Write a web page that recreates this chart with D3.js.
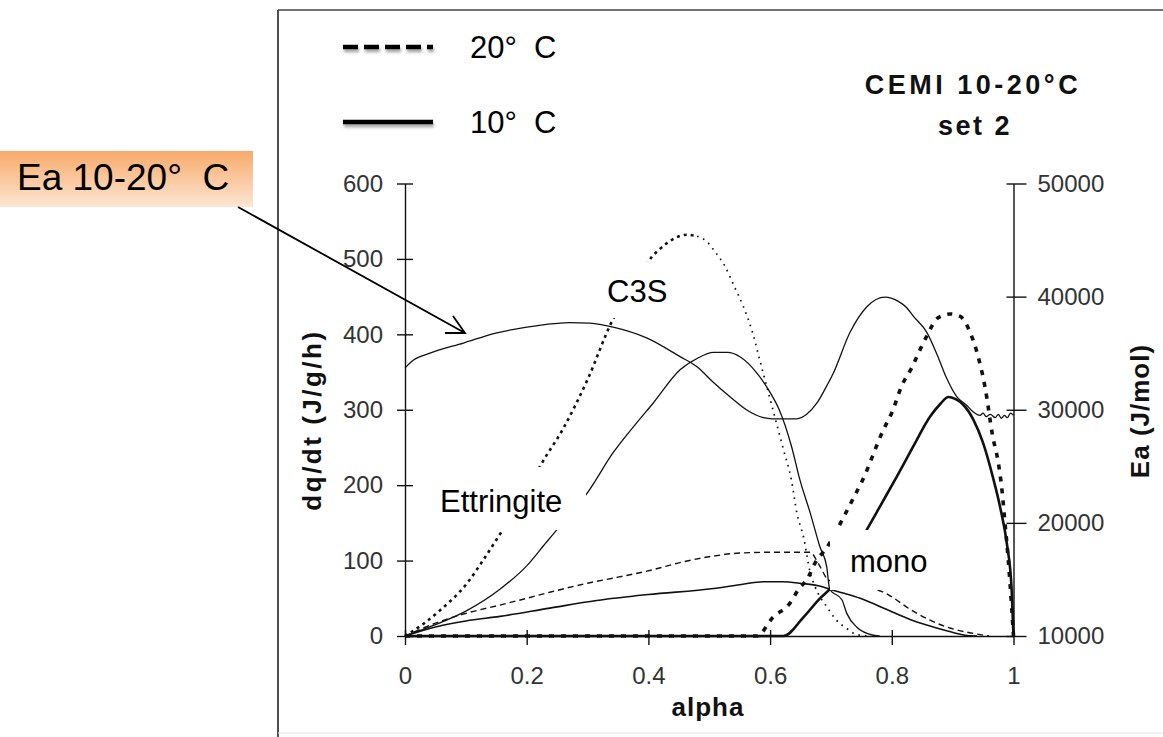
<!DOCTYPE html>
<html>
<head>
<meta charset="utf-8">
<script src="https://cdn.jsdelivr.net/npm/d3@7"></script>
<style>
  html, body { margin: 0; padding: 0; background: #fff; }
  svg { display: block; }
  text { font-family: "Liberation Sans", Arial, sans-serif; }
</style>
</head>
<body>
<svg id="chart" width="1163" height="737"></svg>
<script>
// Heat-flow curves (dq/dt, J/g/h) against degree of hydration alpha,
// CEM I cement at 10 and 20 °C, plus apparent activation energy Ea (J/mol).
const alphaTicks = [0, 0.2, 0.4, 0.6, 0.8, 1];
const alphaTickLabels = ["0", "0.2", "0.4", "0.6", "0.8", "1"];
const dqTicks = [0, 100, 200, 300, 400, 500, 600];
const eaTicks = [10000, 20000, 30000, 40000, 50000];

// C3S peak, 20 °C  [alpha, dq/dt]
const c3s20 = [[0,0],[0.03,16],[0.0575,34],[0.102,70],[0.128,100],[0.16,140],[0.2,190],[0.222,225],[0.26,275],[0.3,340],[0.342,420],[0.37,455],[0.405,502],[0.42,514],[0.44,526],[0.463,532],[0.48,530],[0.496,523],[0.509,510],[0.526,490],[0.542,462],[0.556,437],[0.572,400],[0.583,366],[0.6,314],[0.622,247],[0.635,207],[0.644,163],[0.655,131],[0.666,84],[0.674,65],[0.693,39],[0.709,21],[0.726,10],[0.742,2],[0.76,0]];
// C3S peak, 10 °C
const c3s10 = [[0,0],[0.05,15],[0.1,33],[0.156,62],[0.2,93],[0.233,125],[0.255,146],[0.3,190],[0.342,243],[0.38,282],[0.408,309],[0.452,353],[0.48,368],[0.507,376],[0.53,376],[0.551,370],[0.578,349],[0.6,323],[0.615,300],[0.635,252],[0.649,207],[0.666,163],[0.682,118],[0.693,92],[0.698,62],[0.718,48],[0.726,30],[0.742,12],[0.77,1],[0.78,0]];
// Ettringite, 20 °C
const ett20 = [[0,0],[0.05,17],[0.1,30],[0.156,41],[0.2,50],[0.238,58],[0.3,70],[0.35,78],[0.408,88],[0.45,97],[0.507,106],[0.55,110],[0.6,111],[0.666,111],[0.68,95],[0.695,75],[0.72,68],[0.75,64],[0.78,60],[0.8,52],[0.825,38],[0.86,22],[0.89,12],[0.93,4],[0.96,0]];
// Ettringite, 10 °C
const ett10 = [[0,0],[0.05,12],[0.1,20],[0.156,26],[0.238,37],[0.315,47],[0.4,55],[0.507,63],[0.55,68],[0.589,72],[0.62,72],[0.649,70],[0.687,65],[0.698,62],[0.72,57],[0.748,50],[0.792,35],[0.83,22],[0.86,14],[0.89,7],[0.92,1],[0.94,0]];
// Monosulfate peak, 20 °C
const mono20 = [[0,0],[0.578,0],[0.605,25],[0.633,44],[0.646,61],[0.662,77],[0.674,97],[0.693,117],[0.723,161],[0.737,183],[0.751,205],[0.786,273],[0.8,296],[0.817,333],[0.833,356],[0.841,370],[0.857,397],[0.876,422],[0.896,427],[0.912,424],[0.929,402],[0.94,376],[0.953,331],[0.966,264],[0.975,230],[0.981,194],[0.986,150],[0.991,105],[0.997,38],[1,0]];
// Monosulfate peak, 10 °C
const mono10 = [[0,0],[0.622,0],[0.655,25],[0.682,50],[0.698,62],[0.73,100],[0.759,141],[0.78,171],[0.808,211],[0.835,251],[0.863,291],[0.88,308],[0.893,317],[0.905,314],[0.917,307],[0.934,287],[0.95,256],[0.966,211],[0.978,171],[0.989,123],[0.997,61],[1,0]];
// Apparent activation energy between 10 and 20 °C  [alpha, Ea]
const ea = [[0,33700],[0.014,34400],[0.041,35000],[0.096,35900],[0.151,36800],[0.2,37300],[0.233,37550],[0.27,37700],[0.304,37650],[0.342,37300],[0.397,36350],[0.452,34700],[0.48,33800],[0.507,32400],[0.535,31100],[0.561,30000],[0.589,29300],[0.603,29200],[0.644,29200],[0.66,29600],[0.677,30600],[0.69,31800],[0.704,33250],[0.731,36800],[0.759,39100],[0.789,39950],[0.81,39600],[0.825,39000],[0.835,38300],[0.858,36800],[0.875,34800],[0.89,32800],[0.907,31130],[0.923,30400],[0.934,29800],[0.945,29500],[0.95,29700],[0.955,29400],[0.962,29600],[0.97,29300],[0.975,29600],[0.98,29250],[0.985,29500],[0.99,29300],[0.995,29700],[1,29500]];

const svg = d3.select("#chart");

const x = d3.scaleLinear().domain([0, 1]).range([405, 1013.5]);
const yL = d3.scaleLinear().domain([0, 600]).range([636, 183.5]);
const yR = d3.scaleLinear().domain([10000, 50000]).range([636, 183.5]);

const defs = svg.append("defs");
// soft shadow under the legend strokes
const sh = defs.append("filter").attr("id", "soft").attr("filterUnits", "userSpaceOnUse")
  .attr("x", 320).attr("y", 25).attr("width", 140).attr("height", 125);
sh.append("feDropShadow").attr("dx", 1).attr("dy", 3).attr("stdDeviation", 1.8)
  .attr("flood-color", "#000").attr("flood-opacity", 0.35);
const grad = defs.append("linearGradient").attr("id", "orange").attr("x1", 0).attr("y1", 0).attr("x2", 0).attr("y2", 1);
grad.append("stop").attr("offset", "0%").attr("stop-color", "#f8aa6a");
grad.append("stop").attr("offset", "100%").attr("stop-color", "#fde6d4");

// outer frame
svg.append("line").attr("x1", 278).attr("x2", 278).attr("y1", 10).attr("y2", 737).attr("stroke", "#222").attr("stroke-width", 1.6);
svg.append("line").attr("x1", 278).attr("x2", 1163).attr("y1", 10).attr("y2", 10).attr("stroke", "#444").attr("stroke-width", 1.6);
svg.append("line").attr("x1", 278).attr("x2", 1163).attr("y1", 733).attr("y2", 733).attr("stroke", "#e4e4e4").attr("stroke-width", 1);

// axes
const tickFont = g => g.selectAll("text").attr("font-size", 24).attr("fill", "#333").attr("font-family", "Liberation Sans, Arial, sans-serif");

const xAxis = svg.append("g").attr("transform", `translate(0,${yL(0)})`)
  .call(d3.axisBottom(x).tickValues(alphaTicks).tickFormat((d, i) => alphaTickLabels[i]).tickSize(9).tickPadding(22).tickSizeOuter(0));
xAxis.selectAll(".tick line").attr("y1", -6);
xAxis.call(tickFont);

const yAxisL = svg.append("g").attr("transform", `translate(${x(0)},0)`)
  .call(d3.axisLeft(yL).tickValues(dqTicks).tickSize(8).tickPadding(14).tickSizeOuter(0));
yAxisL.selectAll(".tick line").attr("x1", 8);
yAxisL.call(tickFont);

const yAxisR = svg.append("g").attr("transform", `translate(${x(1)},0)`)
  .call(d3.axisRight(yR).tickValues(eaTicks).tickFormat(d3.format("d")).tickSize(13).tickPadding(11).tickSizeOuter(0));
yAxisR.selectAll(".tick line").attr("x1", -7);
yAxisR.call(tickFont);

[xAxis, yAxisL, yAxisR].forEach(a => {
  a.select(".domain").attr("stroke", "#111").attr("stroke-width", 1.4);
  a.selectAll(".tick line").attr("stroke", "#111").attr("stroke-width", 1.4);
});

// curves
const lineL = d3.line().x(d => x(d[0])).y(d => yL(d[1])).curve(d3.curveMonotoneX);
const lineR = d3.line().x(d => x(d[0])).y(d => yR(d[1])).curve(d3.curveMonotoneX);
const plot = svg.append("g").attr("fill", "none").attr("stroke", "#111");

plot.append("path").attr("d", lineR(ea)).attr("stroke-width", 1.3);
plot.append("path").attr("d", lineL(c3s10)).attr("stroke-width", 1.3);
// 20 °C C3S: coarse dashes on the dense rising branch, fine dots after the peak
const c3sPeak = 0.48;
plot.append("path").attr("d", lineL(c3s20.filter(d => d[0] <= c3sPeak))).attr("stroke-width", 2.6).attr("stroke-dasharray", "3,4");
plot.append("path").attr("d", lineL(c3s20.filter(d => d[0] >= c3sPeak))).attr("stroke-width", 1.7).attr("stroke-dasharray", "1.6,5");
plot.append("path").attr("d", lineL(ett20)).attr("stroke-width", 1.4).attr("stroke-dasharray", "6,4");
plot.append("path").attr("d", lineL(ett10)).attr("stroke-width", 1.6);
plot.append("path").attr("d", lineL(mono10)).attr("stroke-width", 2.6);
plot.append("path").attr("d", lineL(mono20)).attr("stroke-width", 3.6).attr("stroke-dasharray", "5,7");

// axis titles
svg.append("text").attr("x", 708).attr("y", 716).attr("text-anchor", "middle")
  .attr("font-size", 26).attr("font-weight", "bold").attr("letter-spacing", 1).attr("fill", "#111").text("alpha");
svg.append("text").attr("transform", "translate(321,420) rotate(-90)").attr("text-anchor", "middle")
  .attr("font-size", 26).attr("font-weight", "bold").attr("letter-spacing", 2.5).attr("fill", "#111").text("dq/dt (J/g/h)");
svg.append("text").attr("transform", "translate(1149,411) rotate(-90)").attr("text-anchor", "middle")
  .attr("font-size", 26).attr("font-weight", "bold").attr("letter-spacing", 1).attr("fill", "#111").text("Ea (J/mol)");

// title
svg.append("text").attr("x", 973).attr("y", 94).attr("text-anchor", "middle")
  .attr("font-size", 27).attr("font-weight", "bold").attr("letter-spacing", 3.5).attr("fill", "#111").text("CEMI 10-20°C");
svg.append("text").attr("x", 975).attr("y", 135).attr("text-anchor", "middle")
  .attr("font-size", 27).attr("font-weight", "bold").attr("letter-spacing", 2.5).attr("fill", "#111").text("set 2");

// legend
const legend = [
  { label: "20°\u00a0\u00a0C", y: 47, dash: "15,6" },
  { label: "10°\u00a0\u00a0C", y: 122, dash: null }
];
legend.forEach(l => {
  const ln = svg.append("path").attr("d", `M343,${l.y}H433`)
    .attr("stroke", "#000").attr("stroke-width", 4.5).attr("fill", "none").attr("filter", "url(#soft)");
  if (l.dash) ln.attr("stroke-dasharray", l.dash);
  svg.append("text").attr("x", 470).attr("y", l.y + 11).attr("font-size", 31).attr("fill", "#000").text(l.label);
});

// white-backed labels on the curves
const tags = [
  { text: "C3S", box: [598, 262, 80, 56], tx: 607, ty: 302 },
  { text: "Ettringite", box: [432, 467, 154, 63], tx: 440, ty: 512 },
  { text: "mono", box: [830, 530, 108, 60], tx: 850, ty: 572 }
];
tags.forEach(t => {
  svg.append("rect").attr("x", t.box[0]).attr("y", t.box[1]).attr("width", t.box[2]).attr("height", t.box[3]).attr("fill", "#fff");
  svg.append("text").attr("x", t.tx).attr("y", t.ty).attr("font-size", 31).attr("fill", "#000").text(t.text);
});

// activation-energy callout
svg.append("rect").attr("x", 0).attr("y", 151).attr("width", 253).attr("height", 56).attr("fill", "url(#orange)");
svg.append("text").attr("x", 17).attr("y", 190).attr("font-size", 37).attr("fill", "#000").text("Ea 10-20°\u00a0\u00a0C");
svg.append("path").attr("d", "M238,207 L465,333 M445,333 L465,333 L453,316")
  .attr("fill", "none").attr("stroke", "#000").attr("stroke-width", 1.8);
</script>
</body>
</html>
